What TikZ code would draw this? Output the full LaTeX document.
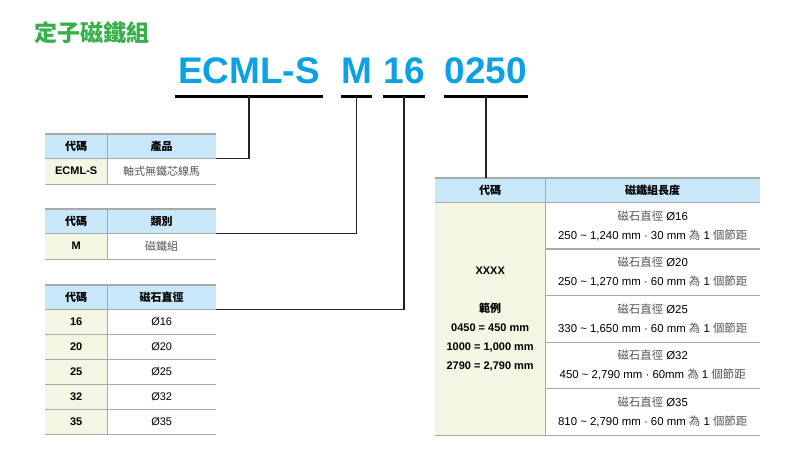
\documentclass[tikz,border=0pt]{standalone}
\usepackage{fontspec}
\setmainfont{Liberation Sans}
\newfontfamily\cjk{Noto Sans CJK TC}
\definecolor{codeblue}{HTML}{0BA1E4}
\definecolor{titlegreen}{HTML}{36B04A}
\definecolor{headblue}{HTML}{C8E7F9}
\definecolor{keygreen}{HTML}{F3F6E2}
\definecolor{rulegray}{HTML}{A9A9A9}
\definecolor{linkgray}{HTML}{222222}
\definecolor{valgray}{HTML}{555555}
\newcommand{\zh}[1]{{\cjk #1}}
\newcommand{\zg}[1]{{\cjk\color{valgray}#1}}

\begin{document}
\begin{tikzpicture}[x=1pt,y=-1pt,
    code/.style={font=\bfseries\fontsize{37}{37}\selectfont, text=codeblue, inner sep=0pt, minimum height=50pt},
    bar/.style={line width=3pt},
    link/.style={draw=linkgray, line width=1.4pt},
    head/.style={fill=headblue, anchor=north west, inner sep=0pt, minimum height=24pt, font=\bfseries\fontsize{11}{13}\selectfont},
    key/.style={fill=keygreen, anchor=north west, inner sep=0pt, font=\bfseries\fontsize{11}{13}\selectfont},
    val/.style={fill=white, anchor=north west, inner sep=0pt, font=\fontsize{11}{13}\selectfont},
    rule/.style={draw=rulegray, line width=1.2pt},
    ]
    \useasboundingbox (0,0) rectangle (800,460);
    \node[font=\cjk\bfseries\fontsize{23}{23}\selectfont, text=titlegreen, anchor=west] (title) at (31,33) {定子磁鐵組};

    % model code
    \node[code, minimum width=148pt] (cE) at (249,71) {ECML-S};
    \node[code, minimum width=31pt] (cM) at (356.5,71) {M};
    \node[code, minimum width=32pt] (c16) at (404,71) {16};
    \node[code, minimum width=84pt] (c0) at (486,71) {0250};
    \foreach \c in {cE,cM,c16,c0}
      \draw[bar] (\c.south west) -- (\c.south east);

    % product
    \node[head, minimum width=62pt] (p1) at (45,134) {\zh{代碼}};
    \node[head, minimum width=109pt] (p2) at (107,134) {\zh{產品}};
    \node[key, minimum width=62pt, minimum height=26pt] (p3) at (45,158) {ECML-S};
    \node[val, minimum width=109pt, minimum height=26pt] (p4) at (107,158) {\zg{軸式無鐵芯線馬}};
    \draw[rule, line width=2pt] (p1.north west) -- (p2.north east);
    \draw[rule] (p1.south west) -- (p2.south east);
    \draw[rule] (p3.south west) -- (p4.south east);
    \draw[rule] (p1.north east) -- (p3.south east);

    % type
    \node[head, minimum width=62pt] (t1) at (45,209) {\zh{代碼}};
    \node[head, minimum width=109pt] (t2) at (107,209) {\zh{類別}};
    \node[key, minimum width=62pt, minimum height=26pt] (t3) at (45,233) {M};
    \node[val, minimum width=109pt, minimum height=26pt] (t4) at (107,233) {\zg{磁鐵組}};
    \draw[rule, line width=2pt] (t1.north west) -- (t2.north east);
    \draw[rule] (t1.south west) -- (t2.south east);
    \draw[rule] (t3.south west) -- (t4.south east);
    \draw[rule] (t1.north east) -- (t3.south east);

    % magnet diameter
    \node[head, minimum width=62pt] (d1) at (45,285) {\zh{代碼}};
    \node[head, minimum width=109pt] (d2) at (107,285) {\zh{磁石直徑}};
    \foreach \n [count=\i] in {16,20,25,32,35} {
      \node[key, minimum width=62pt, minimum height=25pt] (dk\i) at (45,{284+25*\i}) {\n};
      \node[val, minimum width=109pt, minimum height=25pt] (dv\i) at (107,{284+25*\i}) {Ø\n};
    }
    \draw[rule, line width=2pt] (d1.north west) -- (d2.north east);
    \draw[rule] (d1.south west) -- (d2.south east);
    \foreach \i in {1,...,5}
      \draw[rule] (dk\i.south west) -- (dv\i.south east);
    \draw[rule] (d1.north east) -- (dk5.south east);

    % magnet length
    \node[head, minimum width=110pt] (l1) at (435,178) {\zh{代碼}};
    \node[head, minimum width=215pt] (l2) at (545,178) {\zh{磁鐵組長度}};
    \node[key, minimum width=110pt, minimum height=233pt, align=center,
      font=\bfseries\fontsize{11}{19}\selectfont] (lk) at (435,202)
      {XXXX\\[19pt]\zh{範例}\\0450 = 450 mm\\1000 = 1,000 mm\\2790 = 2,790 mm};
    \foreach \n/\r [count=\i] in {16/{250 \textasciitilde{} 1,240 mm · 30 mm},
        20/{250 \textasciitilde{} 1,270 mm · 60 mm},
        25/{330 \textasciitilde{} 1,650 mm · 60 mm},
        32/{450 \textasciitilde{} 2,790 mm · 60mm},
        35/{810 \textasciitilde{} 2,790 mm · 60 mm}}
      \node[val, minimum width=215pt, minimum height=46.6pt, align=center,
        font=\fontsize{11.4}{19}\selectfont] (lv\i) at (545,{202+46.6*(\i-1)})
        {\zg{磁石直徑} Ø\n\\\r{} \zg{為} 1 \zg{個節距}};
    \draw[rule, line width=2pt] (l1.north west) -- (l2.north east);
    \draw[rule] (l1.south west) -- (l2.south east);
    \foreach \i in {1,...,5}
      \draw[rule] (lv\i.south west) -- (lv\i.south east);
    \draw[rule] (lk.south west) -- (lk.south east);
    \draw[rule] (l1.north east) -- (lk.south east);

    % links
    \draw[link] (cE.south) |- (p2.south east);
    \draw[link] (cM.south) |- (t2.south east);
    \draw[link] (c16.south) |- (d2.south east);
    \draw[link] (c0.south) -- (c0.south |- l1.north);
\end{tikzpicture}
\end{document}
